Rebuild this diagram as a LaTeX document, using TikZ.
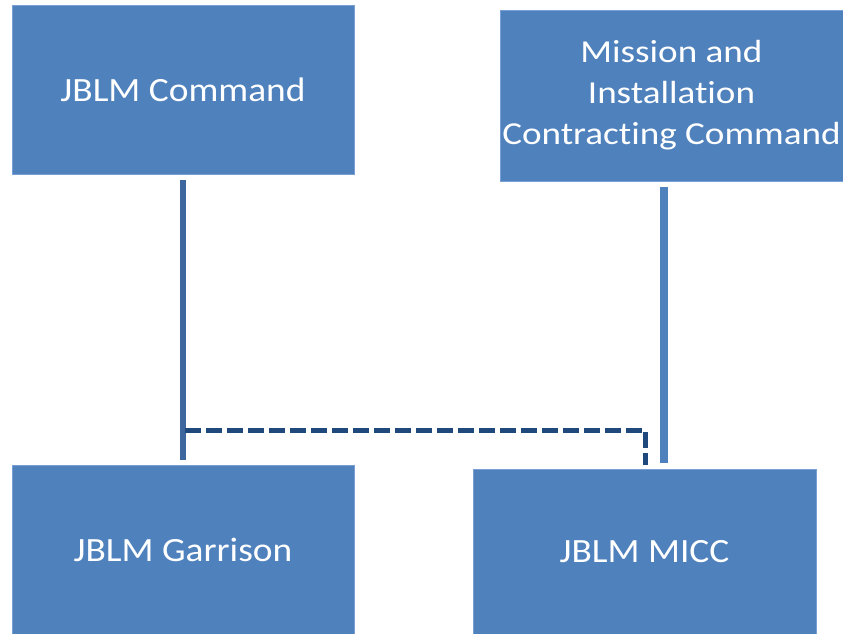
\documentclass[tikz,border=0pt]{standalone}
\usepackage{fontspec}
\setmainfont{Carlito}
\newfontfamily\wideA[FakeStretch=1.1,Ligatures=NoCommon]{Carlito}
\newfontfamily\wideB[FakeStretch=1.16,Ligatures=NoCommon]{Carlito}
\definecolor{boxblue}{RGB}{79,129,189}
\definecolor{boxedge}{RGB}{120,160,212}
\definecolor{navy}{RGB}{31,73,125}
\definecolor{midline}{RGB}{62,102,158}
\begin{document}
\begin{tikzpicture}[x=1pt,y=-1pt,
  box/.style={fill=boxblue,draw=boxedge,line width=0.8pt,text=white,inner sep=0pt,align=center,font=\wideA\fontsize{34}{41}\selectfont},
  solidlink/.style={line width=5.5pt,draw=midline},
  rightlink/.style={line width=7.5pt,draw=boxblue},
  dashlink/.style={line width=5pt,draw=navy,dash pattern=on 16pt off 5pt,line join=miter}]
\useasboundingbox (0,0) rectangle (843,634);
\node[box,minimum width=342pt,minimum height=169pt] (cmd) at (183,89.5) {JBLM Command};
\node[box,minimum width=343pt,minimum height=171pt,font=\wideB\fontsize{32}{41}\selectfont] (mic) at (671.5,95.5) {Mission and\\Installation\\Contracting Command};
\node[box,minimum width=342pt,minimum height=169pt] (gar) at (183,549.5) {JBLM Garrison};
\node[box,minimum width=343pt,minimum height=165pt] (micc) at (644.5,551.5) {JBLM MICC};
\coordinate (ltop) at (183,180);
\coordinate (lbot) at (183,460);
\coordinate (rtop) at (664,187);
\coordinate (rbot) at (664,463);
\coordinate (dstart) at (185,430);
\coordinate (dcorner) at (645,430);
\coordinate (dend) at (645,465);
\draw[solidlink] (ltop) -- (lbot);
\draw[rightlink] (rtop) -- (rbot);
\draw[dashlink] (dstart) -- (dcorner) -- (dend);
\end{tikzpicture}
\end{document}
